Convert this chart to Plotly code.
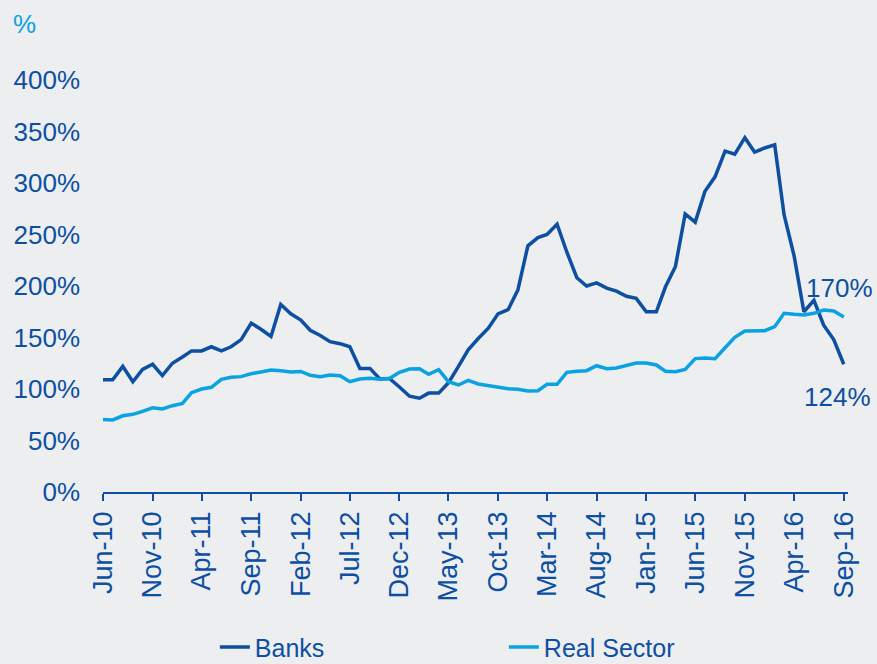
import pandas as pd
import plotly.graph_objects as go

# monthly observations, Jun-10 .. Sep-16 (values in %)
months = pd.date_range("2010-06-01", periods=76, freq="MS")

banks = [109, 109, 122, 107, 119, 124, 113, 125, 131, 137,
         137, 141, 137, 141, 148, 164, 158, 151, 182, 173,
         167, 157, 152, 146, 144, 141, 120, 120, 110, 110,
         102, 93, 91, 96, 96, 106, 122, 138, 149, 159,
         173, 177, 196, 239, 247, 250, 260, 233, 208, 200,
         203, 198, 195, 190, 188, 175, 175, 199, 219, 270,
         262, 292, 306, 331, 328, 344, 330, 334, 337, 269,
         229, 175, 186, 162, 148, 124]

real_sector = [70.5, 70, 74, 75.4, 78.3, 81.8, 80.6, 83.8, 86, 96.4,
               100, 101.6, 109.4, 111.3, 112, 114.9, 116.5, 118.4, 117.8, 116.5,
               117, 113.3, 112, 113.6, 112.9, 107.1, 109.7, 110.4, 109.4, 110.4,
               116.2, 119.4, 119.7, 114.3, 118.7, 107.1, 103.9, 108.4, 104.9, 103.2,
               102, 100.3, 99.7, 98, 98.4, 104.6, 104.6, 116.2, 117.2, 117.8,
               122.6, 119.7, 120.4, 123, 125.2, 125.2, 123.3, 117.2, 116.8, 119.1,
               129.5, 130.1, 129.4, 140.1, 150.2, 156.3, 156.3, 156.6, 160.5, 173.5,
               172.5, 171.8, 173.5, 176.7, 175.7, 170]

tick_labels = ["Jun-10", "Nov-10", "Apr-11", "Sep-11", "Feb-12", "Jul-12",
               "Dec-12", "May-13", "Oct-13", "Mar-14", "Aug-14", "Jan-15",
               "Jun-15", "Nov-15", "Apr-16", "Sep-16"]

DARK = "#0D4FA1"
LIGHT = "#0AA2E2"
BG = "#ECEEF0"
FONT = "Liberation Sans, Arial, sans-serif"

fig = go.Figure()
fig.add_trace(go.Scatter(x=months, y=banks, name="Banks", mode="lines",
                         line=dict(color=DARK, width=3.5)))
fig.add_trace(go.Scatter(x=months, y=real_sector, name="Real Sector", mode="lines",
                         line=dict(color=LIGHT, width=3.5)))

# end-of-series labels
fig.add_annotation(x=months[-1], y=198, text=f"{real_sector[-1]:.0f}%", showarrow=False,
                   xanchor="center", yanchor="middle", xshift=-4,
                   font=dict(size=26, color=DARK, family=FONT))
fig.add_annotation(x=months[-1], y=92, text=f"{banks[-1]:.0f}%", showarrow=False,
                   xanchor="center", yanchor="middle", xshift=-6,
                   font=dict(size=26, color=DARK, family=FONT))
fig.add_annotation(x=-0.105, y=1.136, xref="paper", yref="paper", text="%",
                   showarrow=False, xanchor="center", yanchor="middle",
                   font=dict(size=26, color=LIGHT, family=FONT))

fig.update_layout(
    width=877, height=664,
    paper_bgcolor=BG, plot_bgcolor=BG,
    margin=dict(l=103, r=29, t=80, b=172),
    font=dict(family=FONT, size=25, color=DARK),
    showlegend=True,
    legend=dict(orientation="h", xref="container", yref="container",
                x=0.245, y=0.06, xanchor="left", yanchor="top",
                bgcolor="rgba(0,0,0,0)", font=dict(size=25, color=DARK),
                entrywidth=244, entrywidthmode="pixels"),
)
fig.update_xaxes(
    range=[months[0], pd.Timestamp("2016-09-14")],
    tickvals=months[::5], ticktext=tick_labels, tickangle=-90,
    showline=True, linecolor=DARK, linewidth=1.5,
    ticks="outside", ticklen=7, tickwidth=1.5, tickcolor=DARK,
    showgrid=False, zeroline=False, automargin=False,
    tickfont=dict(size=27, color=DARK),
)
fig.update_yaxes(
    range=[0, 400], dtick=50, ticksuffix="%",
    showline=False, showgrid=False, zeroline=False, ticks="",
    ticklabelstandoff=22, automargin=False,
    tickfont=dict(size=26, color=DARK),
)

fig.write_html("out.html", config={"displayModeBar": False},
               post_script="document.body.style.margin='0';")
